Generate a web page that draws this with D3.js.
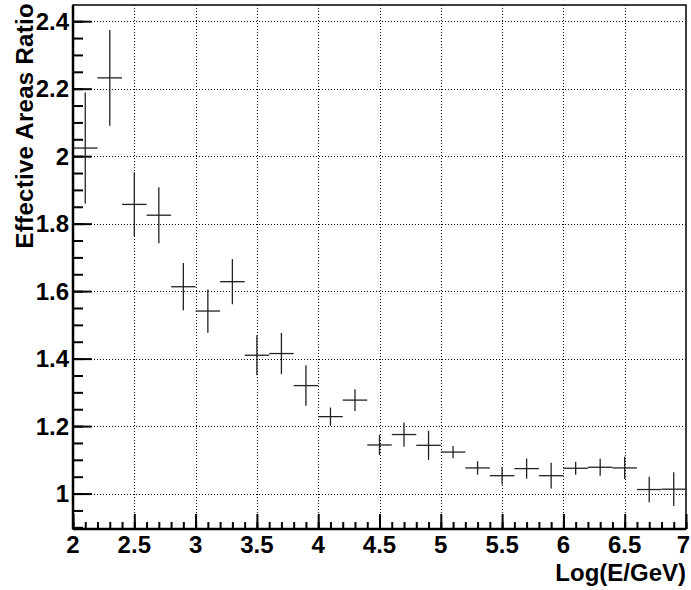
<!DOCTYPE html>
<html>
<head>
<meta charset="utf-8">
<script src="https://cdn.jsdelivr.net/npm/d3@7"></script>
<style>
  body { margin: 0; background: #fff; }
  text { font-family: "Liberation Sans", Arial, sans-serif; font-weight: bold; }
</style>
</head>
<body>
<div id="chart"></div>
<script>
'use strict';

// bin centres of log10(E/GeV), width 0.2
var binCenters = [2.1, 2.3, 2.5, 2.7, 2.9, 3.1, 3.3, 3.5, 3.7, 3.9, 4.1, 4.3, 4.5,
  4.7, 4.9, 5.1, 5.3, 5.5, 5.7, 5.9, 6.1, 6.3, 6.5, 6.7, 6.9];
var ratios = [2.024, 2.232, 1.857, 1.825, 1.613, 1.541, 1.628, 1.410, 1.415, 1.320,
  1.228, 1.277, 1.144, 1.175, 1.143, 1.123, 1.076, 1.053, 1.074, 1.053, 1.075,
  1.078, 1.076, 1.012, 1.013];
var errors = [0.165, 0.142, 0.095, 0.083, 0.070, 0.064, 0.067, 0.059, 0.061, 0.060,
  0.027, 0.032, 0.030, 0.036, 0.043, 0.018, 0.020, 0.026, 0.030, 0.038, 0.019,
  0.025, 0.033, 0.038, 0.050];
var binHalfWidth = 0.1;

var xTicks = [2, 2.5, 3, 3.5, 4, 4.5, 5, 5.5, 6, 6.5, 7];
var yTicks = [1, 1.2, 1.4, 1.6, 1.8, 2, 2.2, 2.4];
var xDomain = [2, 7];
var yDomain = [0.895, 2.448];

var xTitle = 'Log(E/GeV)';
var yTitle = 'Effective Areas Ratio';

var margins = { top: 5, right: 5, bottom: 61, left: 73 };
var width = 691 - margins.left - margins.right;
var height = 590 - margins.top - margins.bottom;
var fontSize = 24;

var xScale = d3.scaleLinear().domain(xDomain).range([0, width]);
var yScale = d3.scaleLinear().domain(yDomain).range([height, 0]);

var svg = d3.select('#chart')
  .append('svg')
  .attr('width', 691)
  .attr('height', 590);

var g = svg.append('g')
  .attr('transform', 'translate(' + margins.left + ',' + margins.top + ')');

// dotted grid at the major ticks
var grid = g.append('g').attr('class', 'grid');

grid.selectAll('line.gx')
  .data(xTicks.slice(1, -1))
  .enter()
  .append('line')
  .attr('class', 'gx')
  .attr('x1', function(d) { return Math.round(xScale(d)) + 0.5; })
  .attr('x2', function(d) { return Math.round(xScale(d)) + 0.5; })
  .attr('y1', 0)
  .attr('y2', height)
  .attr('stroke', '#000')
  .attr('stroke-dasharray', '1,2');

grid.selectAll('line.gy')
  .data(yTicks)
  .enter()
  .append('line')
  .attr('class', 'gy')
  .attr('x1', 0)
  .attr('x2', width)
  .attr('y1', function(d) { return Math.round(yScale(d)) + 0.5; })
  .attr('y2', function(d) { return Math.round(yScale(d)) + 0.5; })
  .attr('stroke', '#000')
  .attr('stroke-dasharray', '1,2');

// frame
g.append('rect')
  .attr('x', 0)
  .attr('y', 0)
  .attr('width', width)
  .attr('height', height)
  .attr('fill', 'none')
  .attr('stroke', '#000')
  .attr('stroke-width', 1.5);

// x axis: major ticks every 0.5, minor every 0.1, drawn upward
var xMinor = d3.range(20, 71).map(function(i) { return i / 10; });
var xAxisMinor = d3.axisTop(xScale).tickValues(xMinor).tickSize(7).tickFormat('');
var xAxisMajor = d3.axisTop(xScale).tickValues(xTicks).tickSize(15).tickFormat('');

[xAxisMinor, xAxisMajor].forEach(function(ax) {
  g.append('g')
    .attr('class', 'axis axis--x')
    .attr('transform', 'translate(0,' + height + ')')
    .call(ax)
    .call(function(s) {
      s.select('.domain').remove();
      s.selectAll('line').attr('stroke', '#000').attr('stroke-width', 2);
    });
});

// last label sits against the window edge, so keep it inside
g.append('g')
  .selectAll('text')
  .data(xTicks)
  .enter()
  .append('text')
  .attr('x', function(d, i) {
    return i === xTicks.length - 1 ? width + 4 : xScale(d);
  })
  .attr('y', height + 24)
  .attr('text-anchor', function(d, i) {
    return i === xTicks.length - 1 ? 'end' : 'middle';
  })
  .attr('font-size', fontSize)
  .text(function(d) { return d3.format('~g')(d); });

// y axis: major every 0.2, minor every 0.05, drawn inward
var yMinor = d3.range(18, 49).map(function(i) { return i * 0.05; });
var yAxisMinor = d3.axisRight(yScale).tickValues(yMinor).tickSize(10).tickFormat('');
var yAxisMajor = d3.axisRight(yScale).tickValues(yTicks).tickSize(19).tickFormat('');

[yAxisMinor, yAxisMajor].forEach(function(ax) {
  g.append('g')
    .attr('class', 'axis axis--y')
    .call(ax)
    .call(function(s) {
      s.select('.domain').remove();
      s.selectAll('line').attr('stroke', '#000').attr('stroke-width', 2);
    });
});

g.append('g')
  .selectAll('text')
  .data(yTicks)
  .enter()
  .append('text')
  .attr('x', -4)
  .attr('y', function(d) { return yScale(d); })
  .attr('dy', '0.36em')
  .attr('text-anchor', 'end')
  .attr('font-size', fontSize)
  .text(function(d) { return d3.format('~g')(d); });

// axis lines on top of ticks
g.append('line')
  .attr('x1', 0).attr('x2', width)
  .attr('y1', height).attr('y2', height)
  .attr('stroke', '#000').attr('stroke-width', 2.5);
g.append('line')
  .attr('x1', 0).attr('x2', 0)
  .attr('y1', 0).attr('y2', height)
  .attr('stroke', '#000').attr('stroke-width', 2.5);

// error crosses
var points = g.selectAll('.point')
  .data(binCenters)
  .enter()
  .append('g')
  .attr('class', 'point');

points.append('line')
  .attr('x1', function(d) { return xScale(d - binHalfWidth); })
  .attr('x2', function(d) { return xScale(d + binHalfWidth); })
  .attr('y1', function(d, i) { return yScale(ratios[i]); })
  .attr('y2', function(d, i) { return yScale(ratios[i]); })
  .attr('stroke', '#222')
  .attr('stroke-width', 1.3);

points.append('line')
  .attr('x1', function(d) { return xScale(d); })
  .attr('x2', function(d) { return xScale(d); })
  .attr('y1', function(d, i) { return yScale(ratios[i] + errors[i]); })
  .attr('y2', function(d, i) { return yScale(ratios[i] - errors[i]); })
  .attr('stroke', '#222')
  .attr('stroke-width', 1.3);

// titles
svg.append('text')
  .attr('x', margins.left + width)
  .attr('y', 581)
  .attr('text-anchor', 'end')
  .attr('font-size', fontSize)
  .text(xTitle);

svg.append('text')
  .attr('transform', 'translate(33,3) rotate(-90)')
  .attr('text-anchor', 'end')
  .attr('font-size', fontSize)
  .attr('letter-spacing', 0.3)
  .text(yTitle);
</script>
</body>
</html>
